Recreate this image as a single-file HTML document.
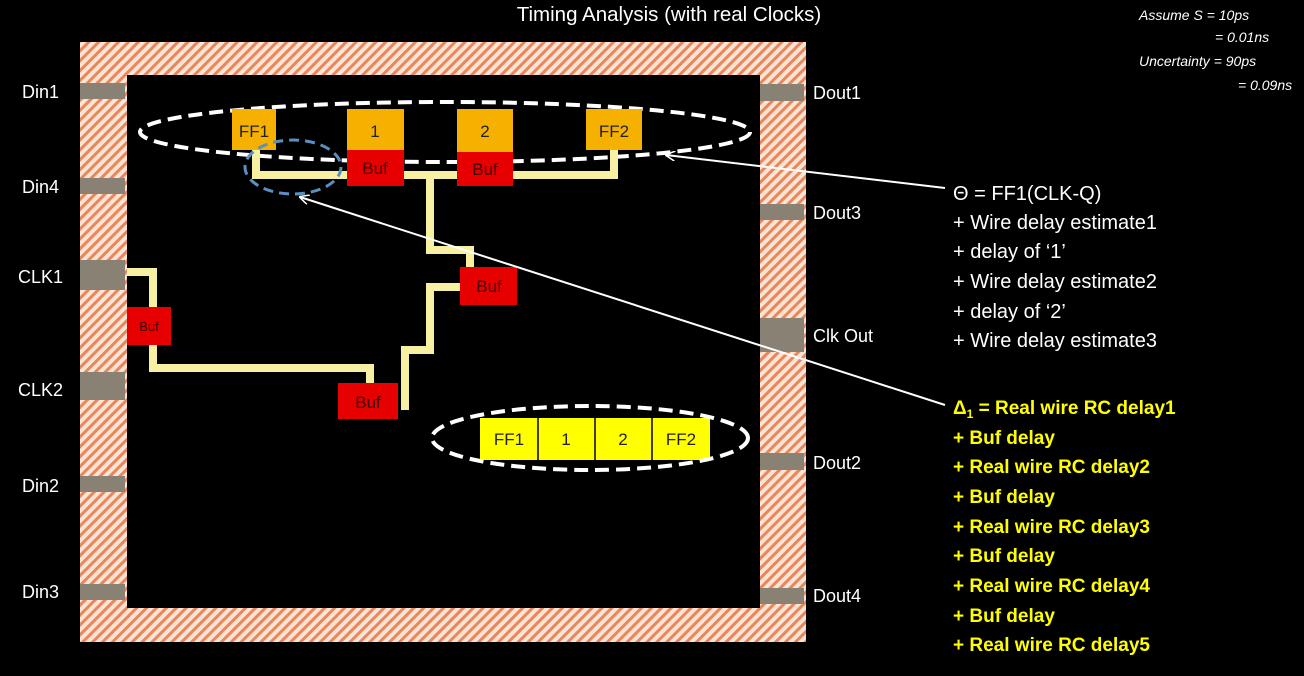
<!DOCTYPE html>
<html><head><style>
body{margin:0;background:#000;width:1304px;height:671px;overflow:hidden;font-family:"Liberation Sans",sans-serif}
</style></head><body>
<svg width="1304" height="671" xmlns="http://www.w3.org/2000/svg" font-family="Liberation Sans, sans-serif">
<defs>
<pattern id="h" width="7" height="7" patternUnits="userSpaceOnUse" patternTransform="rotate(45)">
<rect width="7" height="7" fill="#fbe3d6"/><rect width="3" height="7" fill="#e8875a"/></pattern>
<marker id="a" markerWidth="10" markerHeight="10" refX="9" refY="5" orient="auto" markerUnits="userSpaceOnUse"><path d="M0,0 L10,5 L0,10" fill="none" stroke="#fff" stroke-width="1.5"/></marker>
</defs>
<text x="669" y="21" fill="#fff" font-size="20.5" text-anchor="middle">Timing Analysis (with real Clocks)</text>
<g fill="#fff" font-size="14" font-style="italic">
<text x="1139" y="20">Assume S = 10ps</text><text x="1215" y="42">= 0.01ns</text>
<text x="1139" y="66">Uncertainty = 90ps</text><text x="1238" y="90">= 0.09ns</text></g>
<rect x="80" y="42" width="726" height="600" fill="url(#h)"/>
<rect x="127" y="75" width="633" height="533" fill="#000"/>
<g fill="#8a8175">
<rect x="80" y="83" width="45" height="16"/><rect x="80" y="178" width="45" height="16"/>
<rect x="80" y="260" width="45" height="30"/><rect x="80" y="372" width="45" height="28"/>
<rect x="80" y="476" width="45" height="16"/><rect x="80" y="584" width="45" height="16"/>
<rect x="760" y="84" width="44" height="17"/><rect x="760" y="204" width="44" height="16"/>
<rect x="760" y="318" width="44" height="34"/><rect x="760" y="453" width="44" height="17"/>
<rect x="760" y="588" width="44" height="16"/></g>
<g fill="#fff" font-size="18">
<text x="22" y="98">Din1</text><text x="22" y="193">Din4</text><text x="18" y="283">CLK1</text>
<text x="18" y="396">CLK2</text><text x="22" y="492">Din2</text><text x="22" y="598">Din3</text>
<text x="813" y="99">Dout1</text><text x="813" y="219">Dout3</text><text x="813" y="342">Clk Out</text>
<text x="813" y="469">Dout2</text><text x="813" y="602">Dout4</text></g>
<ellipse cx="445" cy="132" rx="305" ry="30" fill="none" stroke="#fff" stroke-width="4" stroke-dasharray="14,7"/>
<g fill="none" stroke="#f7f0a3" stroke-width="8">
<path d="M256,150 V175 H347 M404,175 H457 M513,175 H614 V150"/>
<path d="M430,175 V250 H470 V267"/>
<path d="M460,287 H430 V350 H405 V410"/>
<path d="M127,272 H153 V307 M153,345 V368 H370 V383"/>
</g>
<g fill="#f6b000">
<rect x="232" y="109" width="44" height="41"/><rect x="347" y="109" width="57" height="41"/>
<rect x="457" y="109" width="56" height="43"/><rect x="586" y="109" width="56" height="41"/></g>
<g fill="#222" font-size="17" text-anchor="middle">
<text x="254" y="137">FF1</text><text x="375" y="137">1</text><text x="485" y="137">2</text><text x="614" y="137">FF2</text></g>
<g fill="#e60000"><rect x="347" y="150" width="57" height="36"/><rect x="457" y="152" width="56" height="34"/>
<rect x="460" y="267" width="57" height="38"/><rect x="127" y="307" width="44" height="38"/><rect x="338" y="383" width="60" height="36"/></g>
<g fill="#400" font-size="17" text-anchor="middle">
<text x="375" y="174">Buf</text><text x="485" y="175">Buf</text><text x="489" y="292">Buf</text>
<text x="149" y="331" font-size="13">Buf</text><text x="368" y="408">Buf</text></g>
<ellipse cx="293" cy="167" rx="48" ry="27" fill="none" stroke="#5b8fc0" stroke-width="3" stroke-dasharray="10,6"/>
<rect x="480" y="418" width="230" height="42" fill="#ffff00"/>
<g stroke="#000" stroke-width="1.5"><line x1="538" y1="418" x2="538" y2="460"/><line x1="595" y1="418" x2="595" y2="460"/><line x1="652" y1="418" x2="652" y2="460"/></g>
<g font-size="17" fill="#222" text-anchor="middle"><text x="509" y="445">FF1</text><text x="566" y="445">1</text><text x="623" y="445">2</text><text x="681" y="445">FF2</text></g>
<ellipse cx="590" cy="438" rx="158" ry="32" fill="none" stroke="#fff" stroke-width="4" stroke-dasharray="14,7"/>
<line x1="945" y1="188" x2="666" y2="155" stroke="#fff" stroke-width="2" marker-end="url(#a)"/>
<line x1="945" y1="405" x2="300" y2="197" stroke="#fff" stroke-width="2" marker-end="url(#a)"/>
<g fill="#fff" font-size="20">
<text x="953" y="200">Θ = FF1(CLK-Q)</text><text x="953" y="229">+ Wire delay estimate1</text>
<text x="953" y="258">+ delay of ‘1’</text><text x="953" y="288">+ Wire delay estimate2</text>
<text x="953" y="318">+ delay of ‘2’</text><text x="953" y="347">+ Wire delay estimate3</text></g>
<g fill="#ffff00" font-size="19" font-weight="bold">
<text x="953" y="414">Δ<tspan font-size="12" dy="4">1</tspan><tspan dy="-4"> = Real wire RC delay1</tspan></text>
<text x="953" y="444">+ Buf delay</text><text x="953" y="473">+ Real wire RC delay2</text>
<text x="953" y="503">+ Buf delay</text><text x="953" y="533">+ Real wire RC delay3</text>
<text x="953" y="562">+ Buf delay</text><text x="953" y="592">+ Real wire RC delay4</text>
<text x="953" y="622">+ Buf delay</text><text x="953" y="651">+ Real wire RC delay5</text></g>
</svg>
</body></html>
